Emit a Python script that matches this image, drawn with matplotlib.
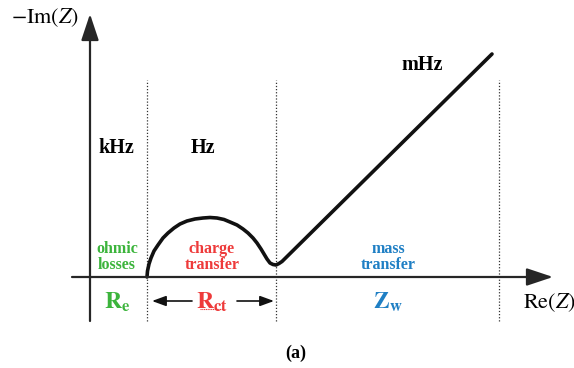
import matplotlib
matplotlib.use("Agg")
import matplotlib.pyplot as plt

plt.rcParams["mathtext.fontset"] = "stix"
SERIF = ["Liberation Serif", "DejaVu Serif"]

# Nyquist sketch of a Randles cell: Re(Z) vs -Im(Z), arbitrary units
re_z = [57, 57.5, 59, 61, 64, 68, 73, 78, 84, 90, 97, 105, 113, 120, 127,
        134, 140, 147, 153, 158, 163, 167, 171, 174, 177, 180, 183, 186,
        189, 192, 402]
im_z = [0, 6, 13, 19, 26, 32, 39, 44, 49, 53, 56, 58, 59, 59.5, 59,
        57.5, 55, 52, 48, 44, 39, 34, 28, 23, 18, 14, 12.5, 12,
        13.5, 15.5, 223]

# Region boundaries on the real axis
boundaries = [57, 186, 409]

# Frequency regimes and processes
freq_labels = ["kHz", "Hz", "mHz"]
process_labels = ["ohmic\nlosses", "charge\ntransfer", "mass\ntransfer"]
element_labels = [r"$\mathbf{R}_{\mathbf{e}}$", r"$\mathbf{R}_{\mathbf{ct}}$", r"$\mathbf{Z}_{\mathbf{w}}$"]
colors = ["#3cb43c", "#ee3a3a", "#1f7fc4"]

fig = plt.figure(figsize=(5.74, 3.68), dpi=100)
ax = fig.add_axes([0, 0, 1, 1])
ax.set_xlim(-90, 484)
ax.set_ylim(-91, 277)
ax.axis("off")

axis_col = "#262626"
arrow_kw = dict(arrowstyle="-|>,head_length=0.9,head_width=0.3", lw=1.6,
                color=axis_col, mutation_scale=18, shrinkA=0, shrinkB=0)
# Real axis
ax.annotate("", xy=(463, 0), xytext=(-18, 0), arrowprops=arrow_kw)
# Imaginary axis
ax.annotate("", xy=(0, 263), xytext=(0, -44), arrowprops=arrow_kw)

# Dotted region boundaries
for b in boundaries:
    ax.plot([b, b], [-44, 197], ls=(0, (1, 1.5)), lw=0.9, color="#333333")

# Impedance curve
ax.plot(re_z, im_z, color="#111111", lw=2.6, solid_capstyle="round",
        solid_joinstyle="round")

# Axis titles
ax.text(-45, 259, r"$-\mathrm{Im}(Z)$", fontsize=16, ha="center", va="center")
ax.text(459, -26, r"$\mathrm{Re}(Z)$", fontsize=16, ha="center", va="center")

# Frequency labels
freq_pos = [(26, 129), (113, 129), (332, 212)]
for (x, y), t in zip(freq_pos, freq_labels):
    ax.text(x, y, t, family=SERIF, fontweight="bold", fontsize=14.5,
            ha="center", va="center")

# Process labels
proc_x = [27, 122, 298]
for x, t, c in zip(proc_x, process_labels, colors):
    ax.text(x, 20, t, family=SERIF, fontweight="bold", fontsize=11.5,
            color=c, ha="center", va="center", linespacing=1.0)

# Circuit element labels
elem_x = [27, 122, 298]
for x, t, c in zip(elem_x, element_labels, colors):
    ax.text(x, -25, t, fontsize=17, color=c, ha="center", va="center")

# Red underline under R_ct
ax.plot([110, 134], [-32, -32], color="#ee3a3a", lw=0.8, ls=(0, (1, 0.6)))

# R_ct span arrows
span_kw = dict(arrowstyle="-|>,head_length=0.6,head_width=0.22", lw=1.2,
               color="#111111", mutation_scale=14, shrinkA=0, shrinkB=0)
ax.annotate("", xy=(62, -24), xytext=(102, -24), arrowprops=span_kw)
ax.annotate("", xy=(184, -24), xytext=(147, -24), arrowprops=span_kw)

# Panel label
fig.text(296 / 574, 1 - 353 / 368, "(a)", family=SERIF, fontweight="bold",
         fontsize=13, ha="center", va="center")

fig.savefig("out.png", dpi=100)
